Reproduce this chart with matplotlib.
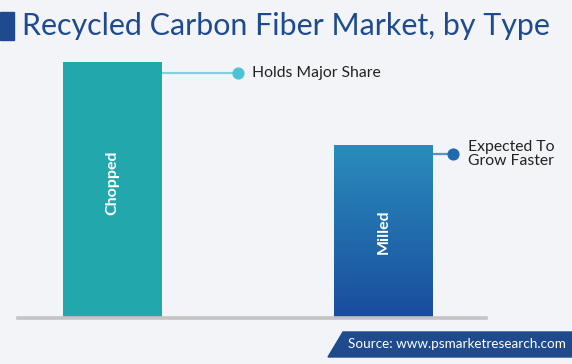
import numpy as np
import matplotlib
matplotlib.use("Agg")
import matplotlib.pyplot as plt
from matplotlib.patches import Polygon, Rectangle

# ---- dati ----
categories = ["Chopped", "Milled"]
values = [100, 67.6]
notes = ["Holds Major Share", "Expected To\nGrow Faster"]

W, H = 572, 364
BG = "#F3F4F8"
NAVY = "#1F4B8E"

plt.rcParams["font.family"] = ["Lato", "DejaVu Sans"]

fig = plt.figure(figsize=(W / 100, H / 100), dpi=100, facecolor=BG)

# ---- titolo ----
fig.patches.append(Rectangle((0, 1 - 40 / H), 14 / W, 28 / H, transform=fig.transFigure,
                             color=NAVY, zorder=1))
fig.text(22 / W, 1 - 26 / H, "Recycled Carbon Fiber Market, by Type",
         fontsize=21.9, color=NAVY, va="center", ha="left")

# ---- area grafico ----
ax = fig.add_axes([18 / W, (H - 318) / H, 468 / W, 256 / H])
ax.set_facecolor("none")
for s in ["top", "right", "left"]:
    ax.spines[s].set_visible(False)
ax.spines["bottom"].set_color("#C4C4C4")
ax.spines["bottom"].set_linewidth(2.6)
ax.set_xticks([])
ax.set_yticks([])

bw = 0.365
bars = ax.bar(range(len(categories)), values, width=bw,
              color=["#22A7AD", "none"], zorder=2)

# gradiente per Milled
b = bars[1]
grad = np.linspace(0, 1, 256).reshape(-1, 1)
cmap = matplotlib.colors.LinearSegmentedColormap.from_list("g", ["#1A4C9E", "#2A8DBC"])
im = ax.imshow(grad, cmap=cmap, origin="lower", aspect="auto",
               extent=[b.get_x(), b.get_x() + b.get_width(), 0, b.get_height()], zorder=2)
im.set_clip_path(b)
ax.set_xlim(-0.349, 1.378)
ax.set_ylim(0, 100)

# etichette nelle barre
ax.text(0, values[0] * 0.53, categories[0], rotation=90, color="white",
        fontsize=11.5, fontweight="bold", ha="center", va="center", zorder=3)
ax.text(1, values[1] * 0.5, categories[1], rotation=90, color="white",
        fontsize=11.5, fontweight="bold", ha="center", va="center", zorder=3)

# annotazioni
y1 = values[0] - 4.3
ax.plot([bw / 2, 0.462], [y1, y1], color="#7FD3DF", lw=1.6, zorder=1, clip_on=False)
ax.scatter([0.462], [y1], s=60, color="#4EC3D3", zorder=3, clip_on=False)
ax.text(0.514, y1, notes[0], fontsize=11.3, color="#222222", va="center", ha="left")

y2 = values[1] - 3.5
ax.plot([1 + bw / 2, 1.255], [y2, y2], color="#5A8FC8", lw=1.6, zorder=1, clip_on=False)
ax.scatter([1.255], [y2], s=60, color="#1E6AAE", zorder=3, clip_on=False)
ax.text(1.31, y2, notes[1], fontsize=11.3, color="#222222", va="center", ha="left",
        linespacing=1.0, clip_on=False)

# ---- fonte ----
fig.patches.append(Polygon([(328 / W, 1 - 357 / H), (343 / W, 1 - 332 / H),
                            (1, 1 - 332 / H), (1, 1 - 357 / H)],
                           closed=True, transform=fig.transFigure, color=NAVY))
fig.text(348 / W, 1 - 344.5 / H, "Source: www.psmarketresearch.com",
         fontsize=9.7, color="white", va="center", ha="left")

fig.savefig("out.png", dpi=100, facecolor=BG)
